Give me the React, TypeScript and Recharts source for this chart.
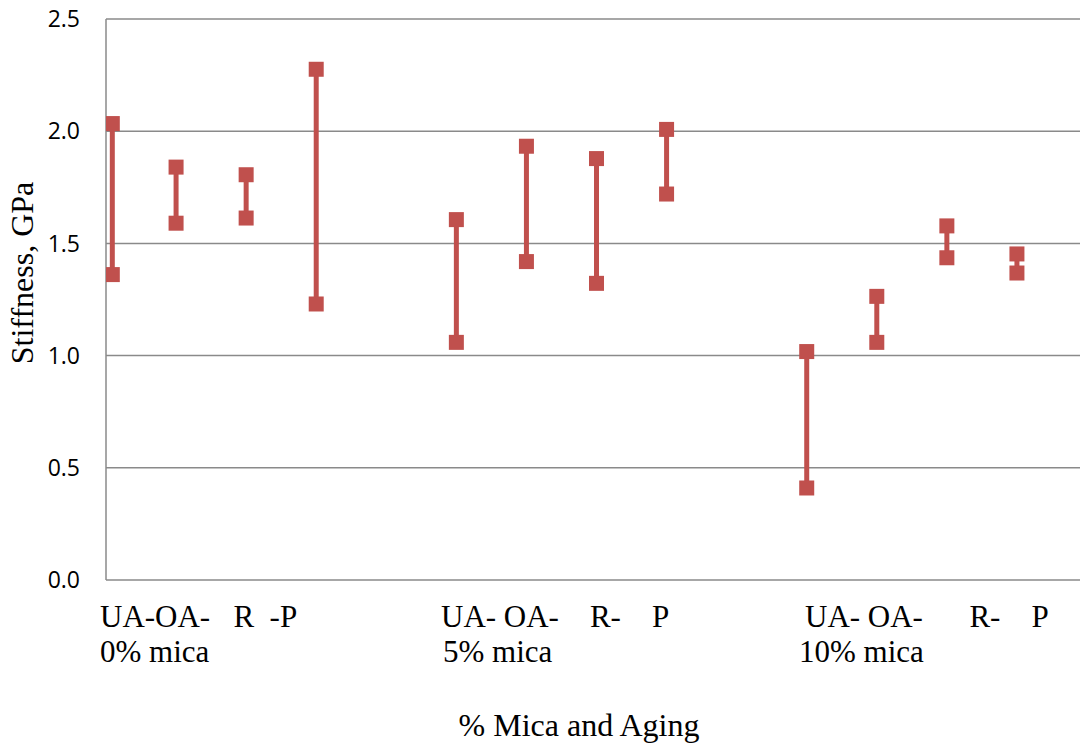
import React from 'react';
import {
  ComposedChart,
  XAxis,
  YAxis,
  CartesianGrid,
  Scatter,
  ReferenceLine,
} from 'recharts';

// Category order: UA, OA, R, P for each mica level
const categories = ['UA', 'OA', 'R', 'P', 'UA', 'OA', 'R', 'P', 'UA', 'OA', 'R', 'P'];
const groupNames = ['0% mica', '5% mica', '10% mica'];
const groupLine1 = ['UA-OA-   R  -P', 'UA- OA-    R-    P', 'UA- OA-      R-    P'];
// slot index of each category on the horizontal axis (empty slots between groups)
const positions = [0.09, 1, 2, 3, 5, 6, 7, 8, 10, 11, 12, 13];
const highValues = [2.034, 1.84, 1.806, 2.276, 1.606, 1.933, 1.878, 2.008, 1.018, 1.264, 1.578, 1.453];
const lowValues = [1.361, 1.59, 1.613, 1.23, 1.059, 1.419, 1.322, 1.72, 0.41, 1.059, 1.436, 1.368];
const yTicks = [0, 0.5, 1.0, 1.5, 2.0, 2.5];

const RED = '#C0504D';
const GRID = '#8a8a8a';
const SERIF = '"Liberation Serif", "Times New Roman", serif';

const highPoints = positions.map((p, i) => ({ pos: p, value: highValues[i], name: categories[i] }));
const lowPoints = positions.map((p, i) => ({ pos: p, value: lowValues[i], name: categories[i] }));

const Square = (props: any) => {
  const { cx, cy } = props;
  if (cx == null || cy == null) return null;
  return <rect x={cx - 7.5} y={cy - 7.5} width={15} height={15} fill={RED} />;
};

const groupX1 = [100, 441, 805];
const groupX2 = [100, 443, 799];

export default function App() {
  return (
    <div style={{ position: 'absolute', left: 0, top: 0, width: 1081, height: 749, background: '#fff' }}>
      <ComposedChart
        width={1081}
        height={749}
        margin={{ top: 19, right: 1, left: 0, bottom: 169 }}
      >
        <CartesianGrid vertical={false} stroke={GRID} strokeWidth={1.5} />
        <XAxis
          type="number"
          dataKey="pos"
          domain={[0, 13.9]}
          allowDataOverflow
          tick={false}
          tickLine={false}
          height={0}
          axisLine={{ stroke: GRID, strokeWidth: 1.5 }}
        />
        <YAxis
          type="number"
          dataKey="value"
          domain={[0, 2.5]}
          ticks={yTicks}
          width={106}
          tickLine={false}
          tickSize={0}
          tickMargin={26}
          axisLine={{ stroke: GRID, strokeWidth: 1.5 }}
          tickFormatter={(v: number) => v.toFixed(1)}
          tick={{ fill: '#000', fontSize: 23, fontFamily: '"Open Sans", sans-serif' }}
        />
        {positions.map((p, i) => (
          <ReferenceLine
            key={'l' + i}
            segment={[
              { x: p, y: lowValues[i] },
              { x: p, y: highValues[i] },
            ]}
            stroke={RED}
            strokeWidth={5}
          />
        ))}
        <Scatter data={highPoints} dataKey="value" shape={Square} isAnimationActive={false} />
        <Scatter data={lowPoints} dataKey="value" shape={Square} isAnimationActive={false} />
      </ComposedChart>
      <svg
        width={1081}
        height={749}
        style={{ position: 'absolute', left: 0, top: 0, pointerEvents: 'none' }}
      >
        {groupLine1.map((t, i) => (
          <text key={'a' + i} x={groupX1[i]} y={627} fontFamily={SERIF} fontSize={31} fill="#000" style={{ whiteSpace: 'pre' }}>
            {t}
          </text>
        ))}
        {groupNames.map((t, i) => (
          <text key={'b' + i} x={groupX2[i]} y={662} fontFamily={SERIF} fontSize={31} fill="#000" style={{ whiteSpace: 'pre' }}>
            {t}
          </text>
        ))}
        <text x={579} y={736} textAnchor="middle" fontFamily={SERIF} fontSize={32} fill="#000">
          % Mica and Aging
        </text>
        <text
          x={33}
          y={273}
          textAnchor="middle"
          fontFamily={SERIF}
          fontSize={32}
          fill="#000"
          transform="rotate(-90 33 273)"
        >
          Stiffness, GPa
        </text>
      </svg>
    </div>
  );
}
